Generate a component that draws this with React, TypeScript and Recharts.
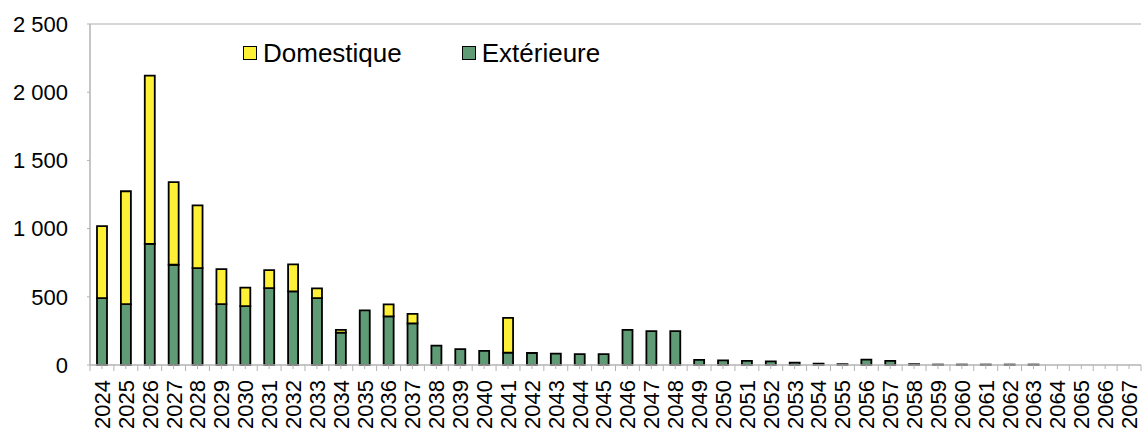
import { Bar, BarChart, ReferenceLine, XAxis, YAxis } from "recharts";

const years = [
  2024, 2025, 2026, 2027, 2028, 2029, 2030, 2031, 2032, 2033, 2034,
  2035, 2036, 2037, 2038, 2039, 2040, 2041, 2042, 2043, 2044, 2045,
  2046, 2047, 2048, 2049, 2050, 2051, 2052, 2053, 2054, 2055, 2056,
  2057, 2058, 2059, 2060, 2061, 2062, 2063, 2064, 2065, 2066, 2067
];

const exterieure = [
  490, 447, 888, 735, 710, 446, 432, 563, 540, 490, 238,
  400, 357, 305, 142, 117, 103, 90, 88, 84, 80, 80,
  258, 249, 249, 38, 34, 30, 26, 18, 10, 6, 40,
  30, 6, 3, 3, 3, 3, 3, 0, 0, 0, 0
];

const domestique = [
  528, 827, 1234, 606, 460, 257, 135, 132, 197, 72, 20,
  0, 87, 70, 0, 0, 0, 255, 0, 0, 0, 0,
  0, 0, 0, 0, 0, 0, 0, 0, 0, 0, 0,
  0, 0, 0, 0, 0, 0, 0, 0, 0, 0, 0
];

const yTicks = [0, 500, 1000, 1500, 2000, 2500];

const data = years.map((y, i) => ({
  year: String(y),
  ext: exterieure[i],
  dom: domestique[i]
}));

const YELLOW = "#FEF036";
const GREEN = "#5F9B74";
const AXIS = "#b3b3b3";
const BORDER = "#c8c8c8";
const FONT = "'Liberation Sans', Arial, sans-serif";

const W = 1143;
const H = 434;
const PLOT_LEFT = 90;
const PLOT_RIGHT = 2;
const STEP = (W - PLOT_LEFT - PLOT_RIGHT) / years.length;

const fmt = (v: number) => String(v).replace(/\B(?=(\d{3})+(?!\d))/g, " ");

function YearTick(props: any) {
  const { x, y, payload, index } = props;
  const axisY = y - 15;
  return (
    <g>
      <line x1={x - STEP / 2} x2={x - STEP / 2} y1={axisY} y2={axisY + 6} stroke={AXIS} />
      {index === years.length - 1 ? (
        <line x1={x + STEP / 2} x2={x + STEP / 2} y1={axisY} y2={axisY + 6} stroke={AXIS} />
      ) : null}
      <text
        x={x}
        y={y}
        dy="0.36em"
        textAnchor="end"
        transform={`rotate(-90, ${x}, ${y})`}
        fill="#000"
        fontSize={22}
        fontFamily={FONT}
      >
        {payload.value}
      </text>
    </g>
  );
}

function ChartLegend() {
  const item = (color: string, label: string, ml: number) => (
    <div style={{ display: "flex", alignItems: "center", marginLeft: ml }}>
      <span
        style={{
          display: "inline-block",
          width: 12,
          height: 12,
          background: color,
          border: "1.5px solid #000",
          marginRight: 6
        }}
      />
      <span style={{ fontSize: 26, fontFamily: FONT, color: "#000", lineHeight: "30px" }}>{label}</span>
    </div>
  );
  return (
    <div style={{ position: "absolute", left: 243, top: 38, display: "flex", alignItems: "center" }}>
      {item(YELLOW, "Domestique", 0)}
      {item(GREEN, "Extérieure", 60)}
    </div>
  );
}

export default function App() {
  return (
    <div style={{ position: "absolute", left: 0, top: 0, width: W, height: H, background: "#fff" }}>
      <BarChart
        width={W}
        height={H}
        data={data}
        margin={{ top: 24, right: PLOT_RIGHT, left: 0, bottom: 0 }}
        barSize={10}
      >
        <XAxis
          dataKey="year"
          interval={0}
          height={69}
          tickSize={4}
          tickMargin={11}
          tickLine={{ stroke: AXIS }}
          axisLine={{ stroke: AXIS, strokeWidth: 1.5 }}
          tick={<YearTick />}
        />
        <YAxis
          width={PLOT_LEFT}
          domain={[0, 2500]}
          ticks={yTicks}
          interval={0}
          tickFormatter={fmt}
          tickSize={3}
          tickMargin={19}
          tickLine={{ stroke: AXIS }}
          axisLine={{ stroke: AXIS, strokeWidth: 1.5 }}
          tick={{ fill: "#000", fontSize: 22, fontFamily: FONT }}
        />
        <YAxis
          yAxisId="r"
          orientation="right"
          width={0}
          domain={[0, 2500]}
          tick={false}
          tickLine={false}
          axisLine={{ stroke: BORDER, strokeWidth: 1.5 }}
        />
        <ReferenceLine y={2500} stroke={BORDER} strokeWidth={1.5} />
        <Bar
          dataKey="ext"
          name="Extérieure"
          stackId="a"
          fill={GREEN}
          stroke="#000"
          strokeWidth={1.8}
          isAnimationActive={false}
        />
        <Bar
          dataKey="dom"
          name="Domestique"
          stackId="a"
          fill={YELLOW}
          stroke="#000"
          strokeWidth={1.8}
          isAnimationActive={false}
        />
      </BarChart>
      <ChartLegend />
    </div>
  );
}
